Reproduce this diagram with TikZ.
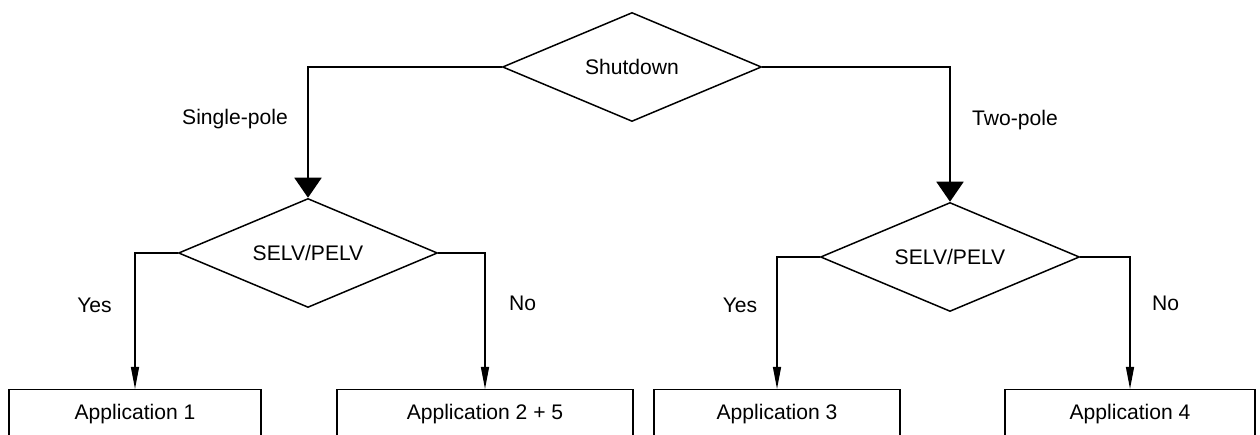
\documentclass[tikz,border=0pt]{standalone}
\usepackage{fontspec}
\setmainfont{Liberation Sans}
\usetikzlibrary{positioning, arrows.meta, shapes.geometric}
\tikzset{
    decbox/.style={diamond, draw=black, line width=0.85pt, aspect=2.4,
                inner sep=0pt, minimum width=5.18cm, minimum height=2.18cm,
                font=\fontsize{12}{14}\selectfont},
    appbox/.style={draw=black, line width=0.85pt, anchor=north,
                minimum width=#1, inner xsep=0pt, inner ysep=0pt,
                text height=0.6cm, text depth=0.6cm,
                font=\fontsize{12}{14}\selectfont},
    bigarr/.style={-{Triangle[length=0.4cm, width=0.54cm]}, line width=1.1pt},
    smallarr/.style={-{Triangle[length=0.44cm, width=0.16cm]}, line width=0.75pt},
    brlbl/.style={font=\fontsize{12}{14}\selectfont},
}

\begin{document}
\begin{tikzpicture}

    \useasboundingbox (0, 0) rectangle (25.2, 8.7);
    \clip (0, 0) rectangle (25.2, 8.7);

    \node[decbox] (shut) at (12.64, 7.36) {Shutdown};
    \node[decbox] (selvL) at (6.16, 3.64) {SELV/PELV};
    \node[decbox] (selvR) at (19.0, 3.56) {SELV/PELV};

    \draw[bigarr] (shut.west) -| (selvL);
    \draw[bigarr] (shut.east) -| (selvR);

    \node[brlbl] (single) at (4.70, 6.32) {Single-pole};
    \node[brlbl] (two) at (20.30, 6.30) {Two-pole};

    \node[appbox=5.04cm] (app1) at (2.70, 0.92) {Application 1};
    \node[appbox=5.92cm] (app2) at (9.70, 0.92) {Application 2 + 5};
    \node[appbox=4.92cm] (app3) at (15.54, 0.92) {Application 3};
    \node[appbox=5.0cm] (app4) at (22.60, 0.92) {Application 4};

    \draw[smallarr] (selvL.west) -| (app1);
    \draw[smallarr] (selvL.east) -| (app2);
    \draw[smallarr] (selvR.west) -| (app3);
    \draw[smallarr] (selvR.east) -| (app4);

    \node[brlbl] (yesL) at (1.89, 2.60) {Yes};
    \node[brlbl] (noL) at (10.45, 2.64) {No};
    \node[brlbl] (yesR) at (14.80, 2.60) {Yes};
    \node[brlbl] (noR) at (23.31, 2.64) {No};

\end{tikzpicture}
\end{document}
